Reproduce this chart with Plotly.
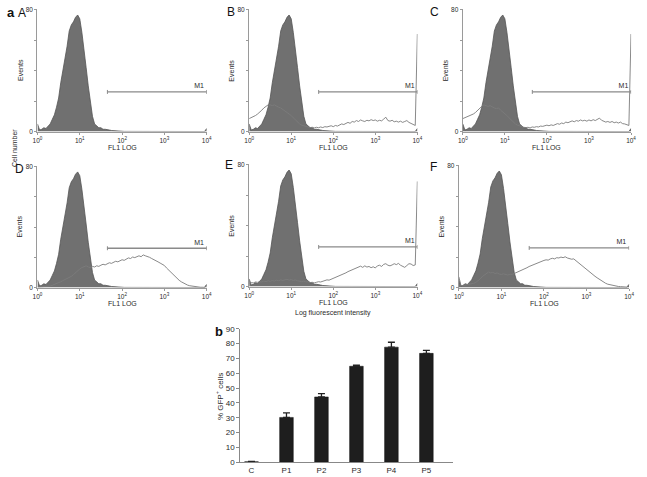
import plotly.graph_objects as go

W, H = 647, 477

# ---------------- data ----------------
log_channel = [i / 20 for i in range(81)]  # histogram bin positions, log10 units 0..4

control = [
    5, 1, 1.5, 2.5, 2, 3.5, 5, 8, 11, 16,
    22, 32, 40, 47, 56, 66, 70, 72, 75, 76.5,
    74, 65, 55, 42, 30, 18, 10, 5, 3.5, 2.5,
    2.5, 1.5, 1.5, 1, 1, 0.7, 0.5, 0.4, 0.3, 0.2,
    0.2, 0.1, 0.1, 0.1, 0, 0, 0, 0, 0, 0,
    0, 0, 0, 0, 0, 0, 0, 0, 0, 0,
    0, 0, 0, 0, 0, 0, 0, 0, 0, 0,
    0, 0, 0, 0, 0, 0, 0, 0, 0, 0,
    2,
]

sample_B = [
    8.5, 9, 9.5, 10.5, 11.5, 12.5, 14, 15.5, 16.5, 17.5,
    17.5, 17, 17.5, 16.5, 16, 15.5, 14.5, 14, 12.5, 11.5,
    10.5, 9, 7.5, 6, 5, 4.2, 3.8, 3.2, 3, 2.6,
    2.8, 2.4, 2.8, 2.5, 3, 2.6, 3.2, 3, 3.4, 3.8,
    3.2, 4, 3.6, 4.4, 5, 4.6, 5.6, 6, 5.4, 6.6,
    6.2, 7.2, 6.6, 7.6, 7, 6.6, 7.4, 7, 7.8, 7.2,
    7.6, 6.8, 7.4, 7, 8.2, 9.4, 7.2, 6.8, 7.4, 6.4,
    6.8, 6.2, 6.8, 6, 6.6, 7.2, 6, 5.2, 4.6, 4,
    64,
]

sample_C = [
    8.5, 9, 9.5, 10.5, 11, 11.5, 12.5, 14, 15.5, 16.5,
    17.5, 17, 16.5, 17, 16, 15.5, 15, 15.5, 14, 13,
    12, 10.5, 9, 7.5, 6.2, 5, 4.2, 3.6, 3.2, 2.8,
    2.6, 2.8, 2.4, 3, 2.8, 3.2, 3, 3.6, 3.4, 3.8,
    4.2, 3.8, 4.4, 4, 4.8, 5.2, 4.8, 5.6, 5.2, 6.2,
    5.8, 6.6, 7, 6.4, 7.2, 6.8, 7.6, 7, 7.4, 6.8,
    7.6, 7, 7.8, 7.2, 8, 8.8, 7.4, 6.8, 6.2, 6.6,
    6, 6.6, 5.8, 6.2, 5.6, 6.2, 5.2, 5, 4.4, 4,
    64,
]

sample_D = [
    0.3, 0.4, 0.5, 0.5, 0.6, 0.8, 1, 1.5, 2, 2.6,
    3.2, 3.8, 4.6, 5.2, 6, 6.8, 7.4, 8.6, 10, 11,
    12.2, 13.2, 13.8, 14.4, 13.6, 13.2, 14, 13.6, 14.4, 14,
    14.8, 15.4, 15, 15.8, 16.4, 16, 16.8, 17.4, 17, 17.8,
    18.4, 18, 19, 19.6, 19.2, 20.2, 19.8, 20.6, 21, 20.4,
    21.6, 21, 20.6, 20, 19.2, 18.6, 17.8, 17, 16.2, 15.4,
    14.6, 13, 11.6, 10, 8.6, 7.4, 6, 4.8, 3.8, 3,
    2.2, 1.6, 1.2, 0.9, 0.6, 0.5, 0.3, 0.2, 0.2, 0.1,
    2,
]

sample_E = [
    2.2, 2.6, 2.4, 3, 2.8, 3.2, 3, 3.6, 3.2, 3.8,
    3.4, 4, 3.6, 4.2, 3.8, 4.4, 4, 4.6, 4.8, 4.2,
    4.6, 4, 4.4, 3.8, 3.6, 3.2, 3.6, 3, 3.2, 2.6,
    2.8, 2.4, 2.8, 3.2, 3, 3.6, 3.8, 4.4, 4.2, 4.8,
    5.2, 5.6, 6.2, 7, 7.6, 8.4, 9, 9.8, 10.4, 11,
    11.8, 12.2, 12.8, 13.4, 12.6, 13.6, 12.8, 13.2, 12.4, 13,
    12.2, 13.6, 14, 13.2, 14.6, 15, 14, 13.6, 14.2, 15,
    14.4, 15.2, 14, 13.2, 12.6, 13.8, 15, 14.8, 13.8, 14.2,
    69,
]

sample_F = [
    7, 1.2, 1.4, 1.6, 1.8, 2, 2.4, 2.8, 3.4, 4.4,
    5.6, 7.2, 8.4, 9.4, 10.2, 9.6, 10, 9.2, 9.6, 8.8,
    8.6, 9, 8.4, 8.2, 8.8, 8.6, 9.2, 9.8, 10.2, 10.8,
    11.6, 12.4, 13, 13.8, 14.4, 15, 15.8, 16.4, 16.8, 17.4,
    17.8, 18.2, 18, 18.8, 19.2, 18.8, 19.6, 19.4, 20, 19.6,
    20.2, 19.4, 19, 18.6, 18.8, 17.6, 16.8, 15.6, 14.2, 13,
    11.8, 10.6, 9.6, 8.4, 7.4, 6.4, 5.4, 4.4, 3.6, 2.8,
    2.2, 1.8, 1.4, 1.2, 0.9, 0.7, 0.6, 0.5, 0.4, 0.3,
    2,
]

panel_names = ["A", "B", "C", "D", "E", "F"]
panel_samples = [None, sample_B, sample_C, sample_D, sample_E, sample_F]

gate_left = 45
gate_right = 10000
gate_level = 26
gate_label = "M1"

x_tickvals = [1, 10, 100, 1000, 10000]
x_ticktext = ["10<sup>0</sup>", "10<sup>1</sup>", "10<sup>2</sup>", "10<sup>3</sup>", "10<sup>4</sup>"]
y_tickvals = [0, 20, 40, 60, 80]
y_ticktext = ["0", "", "", "", "80"]

bar_categories = ["C", "P1", "P2", "P3", "P4", "P5"]
bar_values = [0.3, 30.2, 44.0, 64.7, 77.6, 73.4]
bar_errors = [0.2, 3.1, 2.2, 0.8, 3.3, 2.0]

# ---------------- layout helpers ----------------
def px_x(p):
    return p / W

def px_y(p):
    return 1 - p / H

# plot boxes in pixels: (left, right, top, bottom)
boxes = [
    (33, 205, 5, 130),
    (248, 419, 5, 130),
    (465, 636, 5, 130),
    (33, 205, 165, 289),
    (248, 419, 163, 288),
    (461, 634, 164, 289),
]
letter_pos = [(17, 9), (230, 8), (436, 8), (15, 168), (228, 164), (435, 166)]

FONT = "Liberation Sans, Arial, sans-serif"
TXT = "#2a2a2a"
AX = "#9a9a9a"

fig = go.Figure()
xs = [10 ** v for v in log_channel]


def ann(x, y, text, size, angle=0, color=TXT):
    return dict(x=px_x(x), y=px_y(y), xref="paper", yref="paper", text=text,
                textangle=angle, showarrow=False, xanchor="center", yanchor="middle",
                font=dict(size=size, color=color, family=FONT))


annotations = []
for i, (name, sample, box) in enumerate(zip(panel_names, panel_samples, boxes)):
    n = i + 1
    xa = "x" if n == 1 else f"x{n}"
    ya = "y" if n == 1 else f"y{n}"
    fig.add_trace(go.Scatter(
        x=xs, y=control, xaxis=xa, yaxis=ya, mode="lines",
        line=dict(color="#555555", width=0.8), fill="tozeroy",
        fillcolor="#707070", showlegend=False, hoverinfo="skip"))
    if sample is not None:
        fig.add_trace(go.Scatter(
            x=xs, y=sample, xaxis=xa, yaxis=ya, mode="lines",
            line=dict(color="#7c7c7c", width=0.9),
            showlegend=False, hoverinfo="skip"))
    # gate marker
    fig.add_trace(go.Scatter(
        x=[gate_left, gate_right], y=[gate_level, gate_level], xaxis=xa, yaxis=ya,
        mode="lines", line=dict(color="#8a8a8a", width=1.3),
        showlegend=False, hoverinfo="skip"))
    for gx in (gate_left, gate_right):
        fig.add_trace(go.Scatter(
            x=[gx, gx], y=[gate_level - 1.3, gate_level + 1.3], xaxis=xa, yaxis=ya,
            mode="lines", line=dict(color="#8a8a8a", width=1),
            showlegend=False, hoverinfo="skip"))
    fig.add_trace(go.Scatter(
        x=[10 ** 3.82], y=[gate_level + 3.6], xaxis=xa, yaxis=ya, mode="text",
        text=[gate_label], textfont=dict(size=7, color=TXT, family=FONT),
        showlegend=False, hoverinfo="skip", cliponaxis=False))

    l, r, t, b = box
    axk = "xaxis" if n == 1 else f"xaxis{n}"
    ayk = "yaxis" if n == 1 else f"yaxis{n}"
    fig.update_layout(**{
        axk: dict(type="log", range=[0, 4.004], domain=[px_x(l), px_x(r)], anchor=ya,
                  showline=True, linecolor=AX, linewidth=1.4, ticks="outside", ticklen=2,
                  tickcolor=AX, tickvals=x_tickvals, ticktext=x_ticktext,
                  tickfont=dict(size=6.5, color=TXT, family=FONT), showgrid=False,
                  zeroline=False, fixedrange=True),
        ayk: dict(range=[0, 80.5], domain=[px_y(b), px_y(t)], anchor=xa,
                  showline=True, linecolor=AX, linewidth=1.4, ticks="outside", ticklen=2,
                  tickcolor=AX, tickvals=y_tickvals, ticktext=y_ticktext,
                  tickfont=dict(size=6.5, color=TXT, family=FONT), showgrid=False,
                  zeroline=False, fixedrange=True),
    })
    annotations.append(ann(l - 18, (t + b) / 2, "Events", 7, -90))
    annotations.append(ann((l + r) / 2, b + 16, "FL1 LOG", 7))
    lx, ly = letter_pos[i]
    annotations.append(ann(lx, ly, name, 12, 0, "#111"))

# bar chart b
fig.add_trace(go.Bar(
    x=bar_categories, y=bar_values, xaxis="x7", yaxis="y7", width=0.39,
    marker=dict(color="#1e1e1e", line=dict(color="#111", width=0.5)),
    error_y=dict(type="data", array=bar_errors, arrayminus=[0] * len(bar_errors),
                 symmetric=False, color="#222", thickness=1.3, width=3.5),
    showlegend=False, hoverinfo="skip"))

fig.update_layout(
    xaxis7=dict(domain=[px_x(239), px_x(455)], anchor="y7", range=[-0.32, 5.76],
                showline=True, linecolor="#888", linewidth=1.2, ticks="",
                tickfont=dict(size=8, color=TXT, family=FONT), showgrid=False,
                zeroline=False, fixedrange=True),
    yaxis7=dict(domain=[px_y(467), px_y(331)], anchor="x7", range=[0, 90], dtick=10,
                showline=True, linecolor="#888", linewidth=1.2, ticks="outside",
                ticklen=3, tickcolor="#888",
                tickfont=dict(size=8, color=TXT, family=FONT), showgrid=False,
                zeroline=False, fixedrange=True),
)

annotations += [
    ann(6, 9, "<b>a</b>", 13, 0, "#111"),
    ann(217, 334, "<b>b</b>", 13, 0, "#111"),
    ann(9, 147, "Cell number", 7, -90),
    ann(333, 315, "Log fluorescent intensity", 7),
    ann(218, 400, "% GFP<sup>+</sup> cells", 8, -90),
]

fig.update_layout(
    width=W, height=H, margin=dict(l=0, r=0, t=0, b=0),
    paper_bgcolor="white", plot_bgcolor="white",
    annotations=annotations, bargap=0.5,
)

fig.write_html("out.html", config={"displayModeBar": False},
               post_script="document.body.style.margin='0px';")
